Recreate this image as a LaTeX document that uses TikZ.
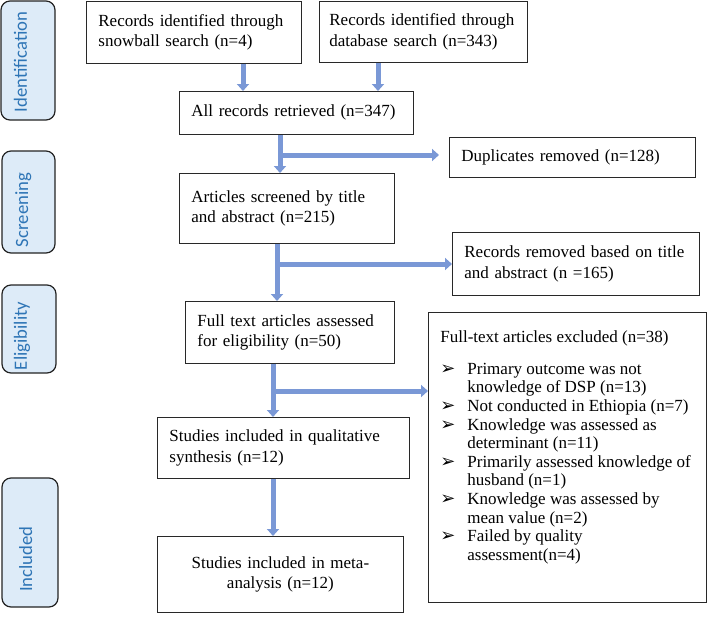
\documentclass[tikz,border=0pt]{standalone}
\usepackage{fontspec}
\setmainfont{Liberation Serif}
\newfontfamily\barfont{Carlito}
\newfontfamily\dejavu{DejaVu Sans}
\usetikzlibrary{arrows.meta,calc}
\definecolor{barfill}{RGB}{221,235,248}
\definecolor{barline}{RGB}{35,35,35}
\definecolor{bartext}{RGB}{46,117,182}
\definecolor{arrowc}{RGB}{122,152,214}
\definecolor{boxline}{RGB}{40,40,40}
\newcommand{\fs}{\fontsize{17}{20.5}\selectfont}
\newcommand{\bul}{\makebox[27pt][l]{\dejavu\fontsize{18}{18}\selectfont ➢}}
\newcommand{\ind}{\hspace*{27pt}}
\begin{document}
\begin{tikzpicture}[x=1pt,y=-1pt,
  box/.style={draw=boxline, line width=0.8pt, anchor=north west, inner xsep=12pt, inner ysep=0pt, align=left, font=\fs},
  cbox/.style={box, align=center},
  bar/.style={draw=barline, fill=barfill, rounded corners=9pt, line width=1.2pt},
  barlabel/.style={rotate=90, anchor=base, text=bartext, font=\barfont\fontsize{18.7}{20}\selectfont, inner sep=0pt},
  fat/.style={line width=5pt, draw=arrowc, -{Triangle[width=12pt,length=7pt]}}]
\useasboundingbox (0,0) rectangle (709,616);

% side bars
\draw[bar] (1,1) rectangle (55,120);
\node[barlabel] (lid) at (27,62) {Identification};
\draw[bar] (2,151) rectangle (55,253);
\node[barlabel] (lsc) at (28,210) {Screening};
\draw[bar] (2,285) rectangle (56,373);
\node[barlabel] (lel) at (27,336) {Eligibility};
\draw[bar] (2,478) rectangle (58,607);
\node[barlabel] (lin) at (32,559) {Included};

% boxes
\node[box, text width=191pt, minimum height=62pt] (snow) at (86,1)
  {Records identified through\\snowball search (n=4)};
\node[box, inner xsep=10pt, text width=188pt, minimum height=61pt] (db) at (319,1)
  {\mbox{Records identified through}\\database search (n=343)};
\node[box, text width=210pt, minimum height=43pt] (all) at (179,91)
  {All records retrieved (n=347)};
\node[box, text width=222pt, minimum height=40pt] (dup) at (449,137)
  {Duplicates removed (n=128)};
\node[box, text width=191pt, minimum height=70pt] (screen) at (179,173)
  {Articles screened by title\\and abstract (n=215)};
\node[box, text width=223pt, minimum height=63pt] (rem) at (452,232)
  {Records removed based on title\\and abstract (n =165)};
\node[box, text width=185pt, minimum height=62pt] (full) at (185,301)
  {Full text articles assessed\\for eligibility (n=50)};
\node[box, text width=228pt, minimum height=61pt] (qual) at (157,417)
  {Studies included in qualitative\\synthesis (n=12)};
\node[cbox, text width=222pt, minimum height=76pt] (meta) at (157,536)
  {Studies included in meta-\\analysis (n=12)};
\node[box, align=left] (excl) at (428,312)
  {\parbox[c][290pt][t]{254pt}{\raggedright\fontsize{17}{18.6}\selectfont\vspace*{18pt}%
  Full-text articles excluded (n=38)\\[13.4pt]
  \bul Primary outcome was not\\
  \ind knowledge of DSP (n=13)\\
  \bul Not conducted in Ethiopia (n=7)\\
  \bul Knowledge was assessed as\\
  \ind determinant (n=11)\\
  \bul Primarily assessed knowledge of\\
  \ind husband (n=1)\\
  \bul Knowledge was assessed by\\
  \ind mean value (n=2)\\
  \bul Failed by quality\\
  \ind assessment(n=4)}};

% arrow x positions
\coordinate (x1) at (243,0);
\coordinate (x2) at (378,0);
\coordinate (x3) at (280,0);
\coordinate (x4) at (277,0);
\coordinate (x5) at (273,0);
\coordinate (b1) at (280,155);
\coordinate (b2) at (277,264);
\coordinate (b3) at (273,391);

\draw[fat] (snow.south -| x1) -- (all.north -| x1);
\draw[fat] (db.south -| x2) -- (all.north -| x2);
\draw[fat] (all.south -| x3) -- (screen.north -| x3);
\draw[fat, shorten >=10pt] (b1) -- (b1 -| dup.west);
\draw[fat] (screen.south -| x4) -- (full.north -| x4);
\draw[fat] (b2) -- (b2 -| rem.west);
\draw[fat] (full.south -| x5) -- (qual.north -| x5);
\draw[fat] (b3) -- (b3 -| excl.west);
\draw[fat] (qual.south -| x5) -- (meta.north -| x5);
\end{tikzpicture}
\end{document}
